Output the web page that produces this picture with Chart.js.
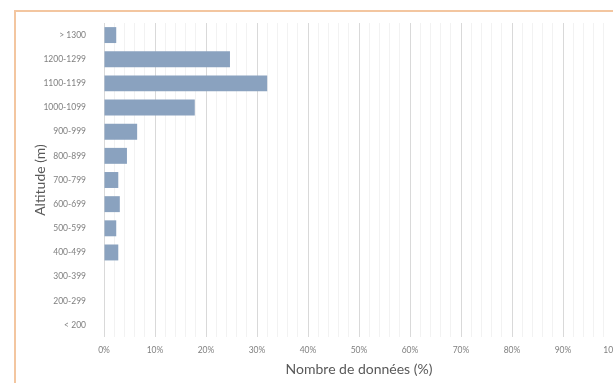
<!DOCTYPE html>
<html><head><meta charset="utf-8">
<script src="https://cdn.jsdelivr.net/npm/chart.js@4/dist/chart.umd.min.js"></script>
<style>
html,body{margin:0;padding:0;background:#fff;overflow:hidden;width:613px;height:383px;}
#frame{position:absolute;left:14px;top:10px;width:700px;height:400px;border-left:2px solid #f3c6a0;border-top:2px solid #f3c6a0;}
#c{position:absolute;left:0;top:0;}
</style></head>
<body>
<div id="frame"></div>
<canvas id="c" width="640" height="383"></canvas>
<script>
const categories = ['> 1300','1200-1299','1100-1199','1000-1099','900-999','800-899','700-799','600-699','500-599','400-499','300-399','200-299','< 200'];
const values = [2.4, 24.7, 32.0, 17.8, 6.5, 4.5, 2.8, 3.1, 2.4, 2.8, 0, 0, 0];
const xTitle = 'Nombre de données (%)';
const yTitle = 'Altitude (m)';

new Chart(document.getElementById('c'), {
  type: 'bar',
  data: { labels: categories, datasets: [{ data: values, backgroundColor: '#8aa2bf', barPercentage: 0.66, categoryPercentage: 1 }] },
  options: {
    indexAxis: 'y', responsive: false, animation: false,
    layout: { padding: { top: 23, right: 26, left: 0, bottom: 0 } },
    plugins: { legend: { display: false }, tooltip: { enabled: false } },
    scales: {
      x: {
        min: 0, max: 100,
        afterFit: s => { s.height = 46; },
        ticks: { stepSize: 2, autoSkip: false, maxRotation: 0, padding: 8, color: '#808080',
          font: { family: 'Lato', size: 8.5 },
          callback: v => (v % 10 === 0 ? v + '%' : '') },
        grid: { drawTicks: false, color: c => (c.tick && c.tick.value % 10 === 0 ? '#d9d9d9' : '#f2f2f2'), lineWidth: 1 },
        border: { display: false },
        title: { display: true, text: xTitle, color: '#595959', font: { family: 'Lato', size: 14 }, padding: { top: 0, bottom: 5 } }
      },
      y: {
        afterFit: s => { s.width = 104; },
        ticks: { padding: 10, color: '#808080', font: { family: 'Lato', size: 8.5 } },
        grid: { display: false },
        border: { display: false },
        title: { display: true, text: yTitle, color: '#595959', font: { family: 'Lato', size: 14 }, padding: { top: 32, bottom: 0 } }
      }
    }
  }
});
</script>
</body></html>
